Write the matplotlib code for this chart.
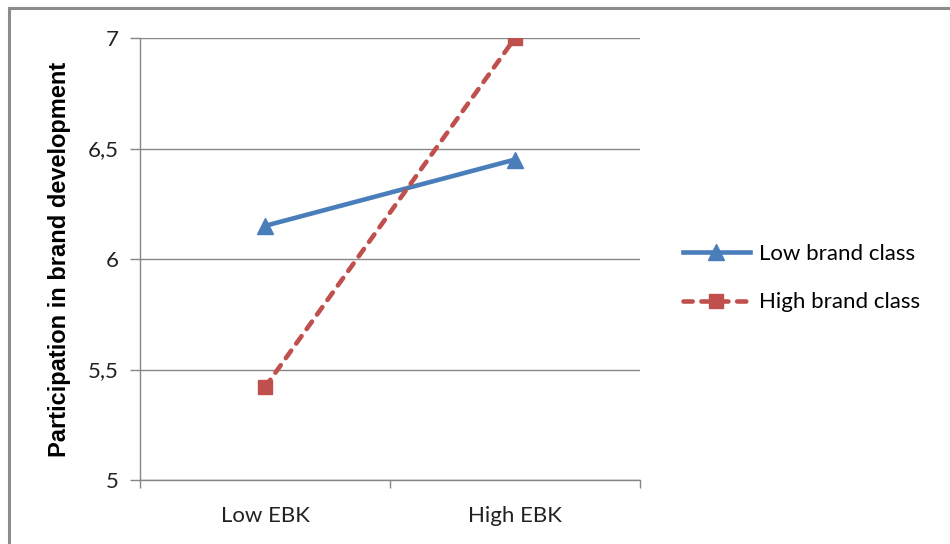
import matplotlib.pyplot as plt
from matplotlib.patches import Rectangle
from matplotlib.ticker import FixedLocator

# Interaction of EBK level and brand class
categories = ["Low EBK", "High EBK"]
low_brand_class = [6.15, 6.45]
high_brand_class = [5.42, 7.0]
y_ticks = [5, 5.5, 6, 6.5, 7]
y_tick_labels = ["5", "5,5", "6", "6,5", "7"]

plt.rcParams["font.family"] = ["Lato", "DejaVu Sans"]
GRAY = "#868686"

fig = plt.figure(figsize=(9.5, 5.44), dpi=100)
ax = fig.add_axes([140 / 950, 1 - 480 / 544, 500 / 950, 442 / 544])

# chart frame, running off the right and bottom edges
fig.patches.append(Rectangle((9 / 950, -0.1), 1.1, 1 - 8 / 544 + 0.1,
                             transform=fig.transFigure, fill=False,
                             edgecolor="#8c8c8c", linewidth=2.2, zorder=0))

x = list(range(len(categories)))
ax.plot(x, low_brand_class, color="#4a7ebb", linewidth=3.3, marker="^",
        markersize=11, label="Low brand class", zorder=3)
ax.plot(x, high_brand_class, color="#c0504d", linewidth=3.3, linestyle=(0, (2.0, 1.9)),
        dash_capstyle="round", marker="s", markersize=10.5,
        label="High brand class", zorder=3)

ax.set_xlim(-0.5, 1.5)
ax.set_ylim(5, 7)
ax.set_yticks(y_ticks)
ax.set_yticklabels(y_tick_labels)
ax.set_xticks(x)
ax.set_xticklabels(categories)
ax.xaxis.set_minor_locator(FixedLocator([-0.5, 0.5, 1.5]))
ax.tick_params(axis="x", which="major", length=0, pad=19, labelsize=16, labelcolor="#222222")
ax.tick_params(axis="x", which="minor", length=6, width=1, color=GRAY, direction="out")
ax.tick_params(axis="y", length=7, width=1, color=GRAY, pad=8, labelsize=16, labelcolor="#222222")

ax.yaxis.grid(True, color=GRAY, linewidth=1)
ax.set_axisbelow(True)
for side in ("top", "right"):
    ax.spines[side].set_visible(False)
for side in ("left", "bottom"):
    ax.spines[side].set_color(GRAY)
    ax.spines[side].set_linewidth(1)

fig.text(60 / 950, 1 - 259 / 544, "Participation in brand development", rotation=90,
         ha="center", va="center", fontsize=17, fontweight="bold",
         family=["Liberation Sans", "DejaVu Sans"])

ax.legend(loc="center left", bbox_to_anchor=(683 / 950, 1 - 278 / 544),
          bbox_transform=fig.transFigure, frameon=False, fontsize=16,
          handlelength=3.0, handletextpad=0.4, labelspacing=1.3, borderaxespad=0,
          borderpad=0)

fig.savefig("out.png", dpi=100)
